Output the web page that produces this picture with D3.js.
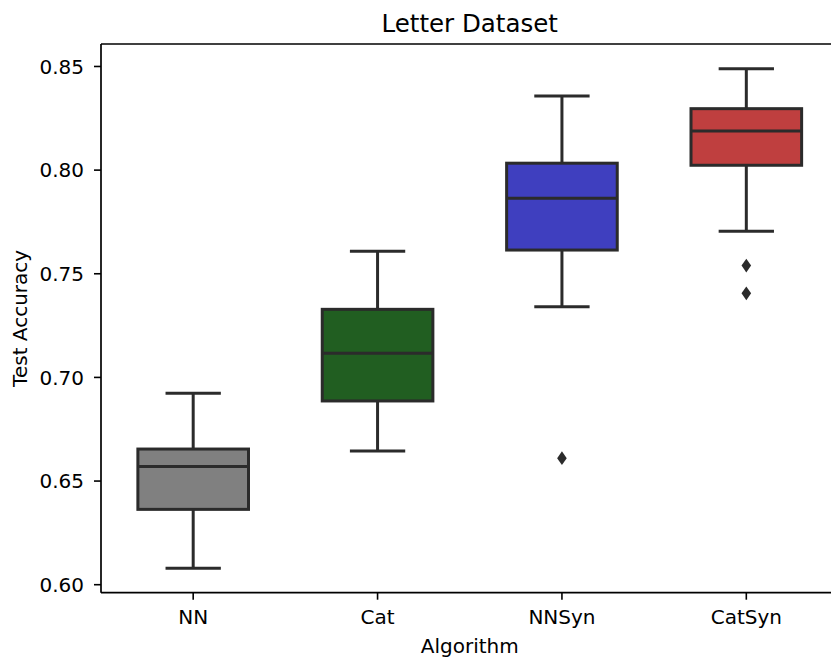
<!DOCTYPE html>
<html>
<head>
<meta charset="utf-8">
<script src="https://cdn.jsdelivr.net/npm/d3@7"></script>
<style>
  body { margin: 0; background: #fff; }
  text { font-family: "DejaVu Sans", sans-serif; fill: #000; }
</style>
</head>
<body>
<svg id="chart" width="831" height="658"></svg>
<script>
const categories = ["NN", "Cat", "NNSyn", "CatSyn"];
const whiskerLow  = [0.6077, 0.6643, 0.7339, 0.7703];
const q1          = [0.6361, 0.6884, 0.7612, 0.8021];
const median      = [0.6568, 0.7114, 0.7862, 0.8186];
const q3          = [0.6652, 0.7326, 0.8031, 0.8294];
const whiskerHigh = [0.6921, 0.7606, 0.8355, 0.8487];
const outliers    = [[], [], [0.6608], [0.7537, 0.7403]];
const colors      = ["#808080", "#215e21", "#3f3fbf", "#bf3f3f"];
const yTicks      = [0.60, 0.65, 0.70, 0.75, 0.80, 0.85];

(function () {
const svg = d3.select("#chart");
const mLeft = 101, mRight = 838.5, mTop = 44, mBottom = 592.7;
const lineColor = "#2b2b2b";
const tickFont = 20;

const x = d3.scaleBand().domain(categories).range([mLeft, mRight]).paddingInner(0).paddingOuter(0);
const y = d3.scaleLinear().domain([0.5959, 0.8606]).range([mBottom, mTop]);
const bw = x.bandwidth();
const boxW = bw * 0.6;
const capW = boxW / 2;

const yAxis = svg.append("g").attr("transform", `translate(${mLeft},0)`)
  .call(d3.axisLeft(y).tickValues(yTicks).tickFormat(d3.format(".2f")).tickSize(7).tickPadding(10));
const xAxis = svg.append("g").attr("transform", `translate(0,${mBottom})`)
  .call(d3.axisBottom(x).tickSize(7).tickPadding(10.5));
[yAxis, xAxis].forEach(a => {
  a.select(".domain").remove();
  a.selectAll(".tick line").attr("stroke", "#000").attr("stroke-width", 1.6);
  a.selectAll(".tick text").attr("font-size", tickFont).attr("font-family", "DejaVu Sans").attr("fill", "#000");
});
yAxis.selectAll(".tick text").attr("dy", "0.36em");
xAxis.selectAll(".tick text").attr("dy", "0.71em");

const spines = svg.append("g").attr("stroke", "#000").attr("stroke-width", 1.7).attr("fill", "none");
spines.append("line").attr("x1", mLeft).attr("x2", mLeft).attr("y1", mTop).attr("y2", mBottom);
spines.append("line").attr("x1", mLeft).attr("x2", mRight).attr("y1", mBottom).attr("y2", mBottom);
spines.append("line").attr("x1", mLeft).attr("x2", mRight).attr("y1", mTop).attr("y2", mTop);
spines.append("line").attr("x1", mRight).attr("x2", mRight).attr("y1", mTop).attr("y2", mBottom);

categories.forEach((c, i) => {
  const cx = x(c) + bw / 2;
  const g = svg.append("g").attr("stroke", lineColor).attr("stroke-width", 3);
  g.append("line").attr("x1", cx).attr("x2", cx).attr("y1", y(q3[i])).attr("y2", y(whiskerHigh[i]));
  g.append("line").attr("x1", cx).attr("x2", cx).attr("y1", y(q1[i])).attr("y2", y(whiskerLow[i]));
  g.append("line").attr("x1", cx - capW / 2).attr("x2", cx + capW / 2).attr("y1", y(whiskerHigh[i])).attr("y2", y(whiskerHigh[i]));
  g.append("line").attr("x1", cx - capW / 2).attr("x2", cx + capW / 2).attr("y1", y(whiskerLow[i])).attr("y2", y(whiskerLow[i]));
  g.append("rect").attr("x", cx - boxW / 2).attr("width", boxW)
    .attr("y", y(q3[i])).attr("height", y(q1[i]) - y(q3[i]))
    .attr("fill", colors[i]);
  g.append("line").attr("x1", cx - boxW / 2).attr("x2", cx + boxW / 2).attr("y1", y(median[i])).attr("y2", y(median[i]));
  outliers[i].forEach(v => {
    const py = y(v);
    svg.append("path")
      .attr("d", `M${cx},${py - 6.8} L${cx + 4.8},${py} L${cx},${py + 6.8} L${cx - 4.8},${py} Z`)
      .attr("fill", lineColor);
  });
});

svg.append("text").attr("x", (mLeft + mRight) / 2).attr("y", 31.5).attr("text-anchor", "middle")
  .attr("font-size", 24.5).text("Letter Dataset");
svg.append("text").attr("x", (mLeft + mRight) / 2).attr("y", 652.5).attr("text-anchor", "middle")
  .attr("font-size", tickFont).text("Algorithm");
svg.append("text").attr("transform", `translate(27,${(mTop + mBottom) / 2}) rotate(-90)`)
  .attr("text-anchor", "middle").attr("font-size", tickFont).text("Test Accuracy");
})();
</script>
</body>
</html>
